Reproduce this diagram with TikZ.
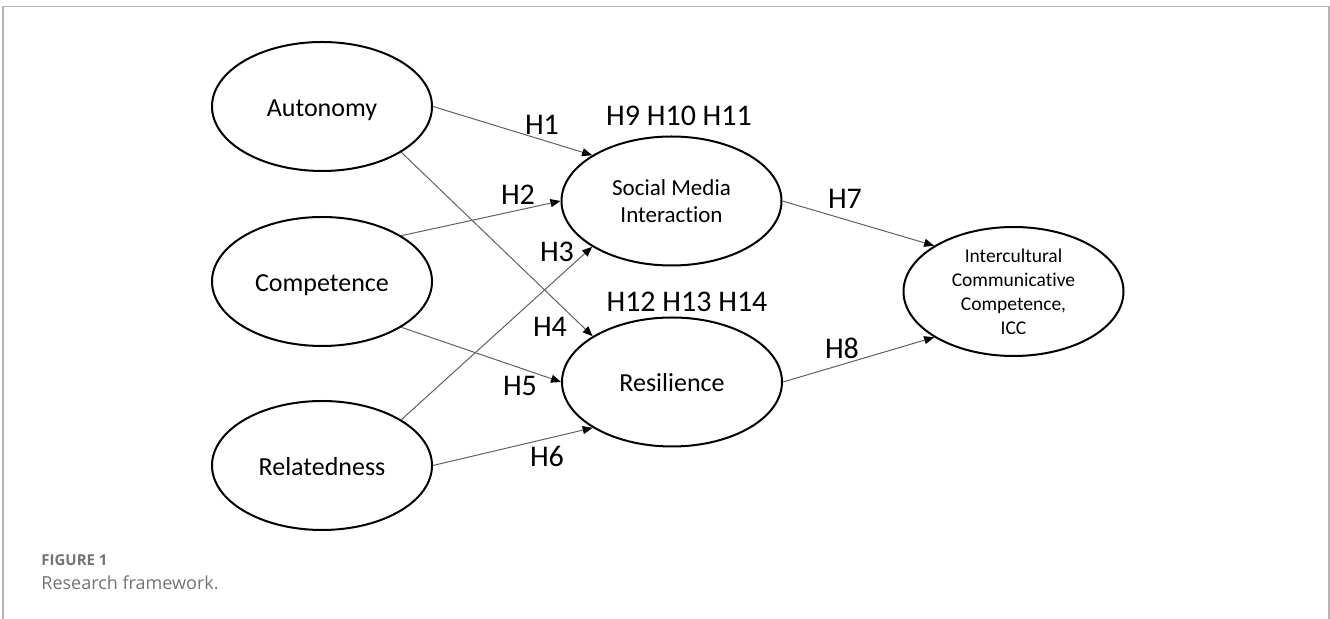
\documentclass[tikz,border=0pt]{standalone}
\usepackage{fontspec}
\setmainfont{Carlito}[Ligatures=NoCommon]
\newfontfamily\captionfont{Open Sans}
\usetikzlibrary{shapes.geometric,arrows.meta}
\definecolor{framegray}{HTML}{B4B4B4}
\definecolor{captiongray}{HTML}{737373}
\begin{document}
\begin{tikzpicture}[x=0.5pt,y=-0.5pt,
    construct/.style={ellipse,draw,line width=1pt,minimum width=110pt,minimum height=64.5pt,inner sep=0pt,align=center,font=\fontsize{13}{15.6}\selectfont},
    onerow/.style={construct,text height=10.5pt,text depth=0.5pt},
    hyp/.style={draw=black!62,line width=0.5pt,-{Triangle[length=5pt,width=4pt,color=black]}},
    hlabel/.style={inner sep=0pt,font=\fontsize{15}{18}\selectfont}]
    \useasboundingbox (0,0) rectangle (1330,619);
    \draw[framegray,line width=0.8pt] (3,619) -- (3,6.5) -- (1329,6.5) -- (1329,619);

    \node[onerow] (aut) at (322,106.5) {Autonomy};
    \node[onerow] (com) at (322,281.5) {Competence};
    \node[onerow] (rel) at (322,465.5) {Relatedness};
    \node[construct,font=\fontsize{11.5}{13.5}\selectfont] (smi) at (671.5,201) {Social Media\\Interaction};
    \node[onerow] (res) at (672,382) {Resilience};
    \node[construct] (icc) at (1013.5,291.5) {};
    \node[align=center,inner sep=0pt,font=\fontsize{9.75}{12}\selectfont] (icctext) at (icc) {Intercultural\\Communicative\\Competence,\\ICC};

    \foreach\from/\fa/\to/\ta in{aut/east/smi/150,com/30/smi/west,rel/30/smi/210,aut/330/res/150,com/330/res/west,rel/east/res/210,smi/east/icc/150,res/east/icc/210}{
        \draw[hyp] (\from.\fa) -- (\to.\ta);
    }

    \foreach\name/\x/\y/\txt in{h1/542/125/H1,h2/518/195/H2,h3/557/252/H3,h4/550/327/H4,h5/520/386/H5,h6/547/456/H6,h7/845/199/H7,h8/842/348/H8,hsmi/679/116/H9 H10 H11,hres/687/302/H12 H13 H14}{
        \node[hlabel] (\name) at (\x,\y) {\txt};
    }

    \node[anchor=west,inner sep=0pt,text=captiongray,font=\captionfont\bfseries\fontsize{7.5}{9}\selectfont] (fignum) at (41,560) {FIGURE 1};
    \node[anchor=west,inner sep=0pt,text=captiongray,font=\captionfont\fontsize{9}{11}\selectfont] (figcap) at (41,583) {Research framework.};
\end{tikzpicture}
\end{document}
